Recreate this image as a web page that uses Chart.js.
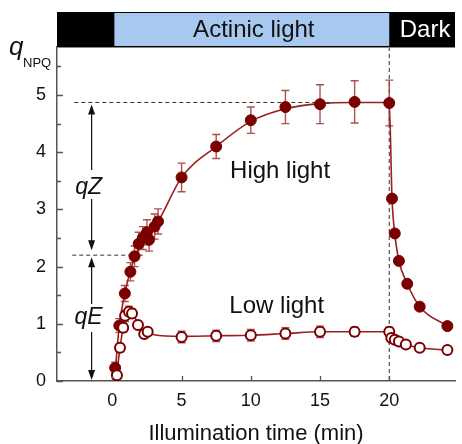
<!DOCTYPE html>
<html>
<head>
<meta charset="utf-8">
<script src="https://cdn.jsdelivr.net/npm/chart.js@4/dist/chart.umd.min.js"></script>
<style>
  body { margin: 0; background: #fff; }
  #wrap { width: 462px; height: 444px; }
</style>
</head>
<body>
<div id="wrap"><canvas id="npqChart" width="462" height="444"></canvas></div>
<script>
// measured points (min, qNPQ)
const highX = [0.2, 0.5, 0.9, 1.3, 1.6, 1.9, 2.2, 2.5, 2.65, 3.05, 3.3, 5, 7.5, 10, 12.5, 15, 17.5, 20, 20.2, 20.4, 20.7, 21.3, 22.2, 24.2];
const highY = [0.23, 0.97, 1.53, 1.91, 2.18, 2.40, 2.50, 2.60, 2.47, 2.70, 2.79, 3.56, 4.10, 4.56, 4.79, 4.84, 4.88, 4.86, 3.19, 2.58, 2.10, 1.70, 1.30, 0.96];
const highErr = [0.1, 0.12, 0.14, 0.16, 0.18, 0.2, 0.2, 0.22, 0.2, 0.22, 0.22, 0.25, 0.21, 0.23, 0.29, 0.34, 0.37, 0.4, 0.05, 0.05, 0.05, 0.05, 0.05, 0.05];

const lowX = [0.33, 0.55, 0.78, 0.92, 1.2, 1.42, 1.85, 2.3, 2.55, 5, 7.5, 10, 12.5, 15, 17.5, 20, 20.15, 20.4, 20.7, 21.2, 22.2, 24.2];
const lowY = [0.1, 0.58, 0.93, 1.14, 1.21, 1.18, 0.98, 0.82, 0.86, 0.77, 0.79, 0.8, 0.83, 0.86, 0.86, 0.86, 0.75, 0.72, 0.69, 0.64, 0.58, 0.54];
const lowErr = [0.03, 0.07, 0.08, 0.1, 0.1, 0.08, 0.06, 0.06, 0.06, 0.1, 0.1, 0.1, 0.1, 0.1, 0.08, 0.08, 0.03, 0.03, 0.03, 0.03, 0.03, 0.03];

// fitted curves
const highFitX = [0.2, 0.5, 0.9, 1.3, 1.6, 2, 2.5, 3.3, 5, 7.5, 10, 12.5, 15, 17.5, 20, 20.2, 20.4, 20.7, 21.3, 22.2, 24.2];
const highFitY = [0.15, 0.97, 1.53, 1.93, 2.15, 2.37, 2.55, 2.79, 3.56, 4.1, 4.54, 4.76, 4.85, 4.87, 4.87, 3.19, 2.58, 2.1, 1.7, 1.3, 0.96];
const lowFitX = [0.3, 0.55, 0.8, 1.05, 1.3, 1.6, 1.9, 2.3, 3, 5, 7.5, 10, 12.5, 15, 17.5, 20, 20.15, 20.4, 20.7, 21.2, 22.2, 24.2];
const lowFitY = [0.08, 0.58, 0.95, 1.15, 1.2, 1.12, 0.98, 0.87, 0.81, 0.78, 0.79, 0.8, 0.83, 0.86, 0.86, 0.86, 0.75, 0.72, 0.69, 0.64, 0.58, 0.54];

const xTicks = [0, 5, 10, 15, 20];
const yTicks = [0, 1, 2, 3, 4, 5];
const yMinorTicks = [0.5, 1.5, 2.5, 3.5, 4.5, 5.5];

const lightOn = 0, lightOff = 20;
const qzLevel = 4.87, qeLevel = 2.2;

const FONT = "'Liberation Sans', Arial, sans-serif";
const darkRed = "#7a0000";
const lineRed = "#9a1f1f";
const errRed = "rgba(160, 50, 50, 0.85)";

function toPoints(xs, ys) {
  return xs.map((x, i) => ({ x: x, y: ys[i] }));
}

function arrowHead(ctx, px, tipY, dir) {
  // dir: -1 points up, +1 points down
  ctx.beginPath();
  ctx.moveTo(px, tipY);
  ctx.lineTo(px - 3.5, tipY - dir * 10);
  ctx.lineTo(px + 3.5, tipY - dir * 10);
  ctx.closePath();
  ctx.fill();
}

function drawErrors(ctx, x, y, xs, ys, errs) {
  xs.forEach((v, i) => {
    const px = x.getPixelForValue(v);
    const top = y.getPixelForValue(ys[i] + errs[i]);
    const bot = y.getPixelForValue(ys[i] - errs[i]);
    ctx.beginPath();
    ctx.moveTo(px, top); ctx.lineTo(px, bot);
    ctx.moveTo(px - 4, top); ctx.lineTo(px + 4, top);
    ctx.moveTo(px - 4, bot); ctx.lineTo(px + 4, bot);
    ctx.stroke();
  });
}

const decorPlugin = {
  id: "decor",
  beforeDatasetsDraw(chart) {
    const { ctx, chartArea: a, scales: { x, y } } = chart;
    ctx.save();
    // dashed guide lines
    ctx.strokeStyle = "#333";
    ctx.lineWidth = 1;
    ctx.setLineDash([4, 3]);
    ctx.beginPath();
    ctx.moveTo(x.getPixelForValue(-2.75), y.getPixelForValue(qzLevel));
    ctx.lineTo(x.getPixelForValue(lightOff), y.getPixelForValue(qzLevel));
    ctx.moveTo(x.getPixelForValue(-2.9), y.getPixelForValue(qeLevel));
    ctx.lineTo(x.getPixelForValue(1.6), y.getPixelForValue(qeLevel));
    ctx.moveTo(x.getPixelForValue(lightOff), a.top);
    ctx.lineTo(x.getPixelForValue(lightOff), a.bottom);
    ctx.stroke();
    ctx.setLineDash([]);

    // error bars
    ctx.strokeStyle = errRed;
    ctx.lineWidth = 1.4;
    drawErrors(ctx, x, y, highX, highY, highErr);
    drawErrors(ctx, x, y, lowX, lowY, lowErr);
    ctx.restore();
  },
  afterDraw(chart) {
    const { ctx, chartArea: a, scales: { x, y } } = chart;
    ctx.save();

    // light / dark bar above the plot
    const barTop = a.top - 35;
    ctx.fillStyle = "#000";
    ctx.fillRect(a.left, barTop, a.right - a.left, 35);
    ctx.fillStyle = "#a7c9ef";
    const x0 = x.getPixelForValue(lightOn), x1 = x.getPixelForValue(lightOff);
    ctx.fillRect(x0 + 2, barTop + 1, x1 - x0 - 2, 33);
    ctx.font = "24px " + FONT;
    ctx.textAlign = "center";
    ctx.textBaseline = "middle";
    ctx.fillStyle = "#111";
    ctx.fillText("Actinic light", (x0 + x1) / 2 + 3, barTop + 18);
    ctx.fillStyle = "#fff";
    ctx.fillText("Dark", (x1 + a.right) / 2 + 3, barTop + 18);

    // top frame line
    ctx.strokeStyle = "#888";
    ctx.lineWidth = 1;
    ctx.beginPath();
    ctx.moveTo(a.left, a.top + 0.5);
    ctx.lineTo(a.right, a.top + 0.5);
    ctx.stroke();

    // inward tick marks
    ctx.strokeStyle = "#555";
    ctx.lineWidth = 1.3;
    ctx.beginPath();
    yTicks.forEach(v => {
      const py = Math.round(y.getPixelForValue(v)) + 0.5;
      ctx.moveTo(a.left, py); ctx.lineTo(a.left + 6, py);
    });
    yMinorTicks.forEach(v => {
      const py = Math.round(y.getPixelForValue(v)) + 0.5;
      ctx.moveTo(a.left, py); ctx.lineTo(a.left + 4, py);
    });
    xTicks.forEach(v => {
      const px = Math.round(x.getPixelForValue(v)) + 0.5;
      ctx.moveTo(px, a.bottom); ctx.lineTo(px, a.bottom - 5);
    });
    ctx.stroke();

    // y axis title q_NPQ
    ctx.fillStyle = "#111";
    ctx.textAlign = "left";
    ctx.textBaseline = "alphabetic";
    ctx.font = "italic 26px " + FONT;
    ctx.fillText("q", 9, 55);
    ctx.font = "13px " + FONT;
    ctx.fillText("NPQ", 23, 67);

    // qZ / qE arrows
    const ax = x.getPixelForValue(-1.5);
    const yTop = y.getPixelForValue(qzLevel) + 2;
    const yMid = y.getPixelForValue(qeLevel);
    const yBot = y.getPixelForValue(0);
    const zLab = y.getPixelForValue(3.39);
    const eLab = y.getPixelForValue(1.1);
    ctx.strokeStyle = "#111";
    ctx.fillStyle = "#111";
    ctx.lineWidth = 1.2;
    ctx.beginPath();
    ctx.moveTo(ax, yTop + 4); ctx.lineTo(ax, zLab - 17);
    ctx.moveTo(ax, zLab + 12); ctx.lineTo(ax, yMid - 8);
    ctx.moveTo(ax, yMid + 6); ctx.lineTo(ax, eLab - 14);
    ctx.moveTo(ax, eLab + 14); ctx.lineTo(ax, yBot - 4);
    ctx.stroke();
    arrowHead(ctx, ax, yTop, -1);
    arrowHead(ctx, ax, yMid - 5, 1);
    arrowHead(ctx, ax, yMid + 2, -1);
    arrowHead(ctx, ax, yBot - 1, 1);

    ctx.font = "italic 23px " + FONT;
    ctx.textAlign = "center";
    ctx.textBaseline = "middle";
    ctx.fillText("qZ", ax - 3, zLab);
    ctx.fillText("qE", ax - 3, eLab);

    // series labels
    ctx.font = "24px " + FONT;
    ctx.textAlign = "left";
    ctx.fillText("High light", x.getPixelForValue(8.5), y.getPixelForValue(3.66));
    ctx.fillText("Low light", x.getPixelForValue(8.45), y.getPixelForValue(1.31));
    ctx.restore();
  }
};

const ctx = document.getElementById("npqChart").getContext("2d");

new Chart(ctx, {
  type: "scatter",
  data: {
    datasets: [
      {
        label: "Low light",
        data: toPoints(lowX, lowY),
        showLine: false,
        pointRadius: 5,
        pointBackgroundColor: "#fff",
        pointBorderColor: darkRed,
        pointBorderWidth: 2,
        order: 0
      },
      {
        label: "High light",
        data: toPoints(highX, highY),
        showLine: false,
        pointRadius: 5.5,
        pointBackgroundColor: darkRed,
        pointBorderColor: darkRed,
        pointBorderWidth: 1,
        order: 1
      },
      {
        label: "Low fit",
        data: toPoints(lowFitX, lowFitY),
        showLine: true,
        cubicInterpolationMode: "monotone",
        borderColor: lineRed,
        borderWidth: 1.6,
        pointRadius: 0,
        order: 2
      },
      {
        label: "High fit",
        data: toPoints(highFitX, highFitY),
        showLine: true,
        cubicInterpolationMode: "monotone",
        borderColor: lineRed,
        borderWidth: 1.6,
        pointRadius: 0,
        order: 3
      }
    ]
  },
  options: {
    responsive: false,
    animation: false,
    layout: { padding: { top: 47, left: 0, right: 0, bottom: 0 } },
    plugins: {
      legend: { display: false },
      tooltip: { enabled: false }
    },
    scales: {
      x: {
        type: "linear",
        min: -4,
        max: 24.75,
        afterBuildTicks: s => { s.ticks = xTicks.map(v => ({ value: v })); },
        afterFit: s => { s.height = 63; },
        grid: { display: false, drawTicks: false },
        border: { display: true, color: "#555", width: 1.5 },
        ticks: {
          padding: 9,
          color: "#111",
          font: { family: FONT, size: 18 },
          maxRotation: 0
        },
        title: {
          display: true,
          text: "Illumination time (min)",
          color: "#111",
          font: { family: FONT, size: 22 },
          padding: { top: 0, bottom: -3 }
        }
      },
      y: {
        type: "linear",
        min: 0,
        max: 5.84,
        afterBuildTicks: s => { s.ticks = yTicks.map(v => ({ value: v })); },
        afterFit: s => { s.width = 57; },
        grid: { display: false, drawTicks: false },
        border: { display: true, color: "#555", width: 1.5 },
        ticks: {
          padding: 11,
          color: "#111",
          font: { family: FONT, size: 18 }
        }
      }
    }
  },
  plugins: [decorPlugin]
});
</script>
</body>
</html>
